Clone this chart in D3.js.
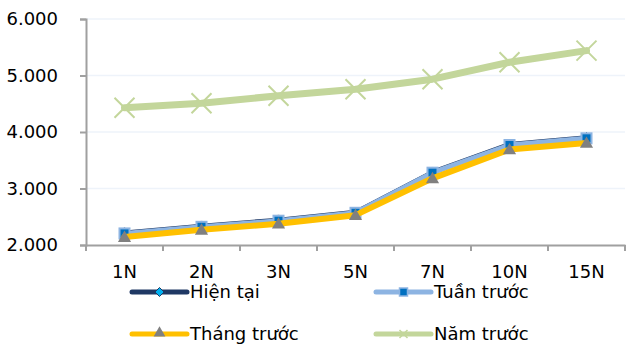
<!DOCTYPE html>
<html><head><meta charset="utf-8">
<script src="https://cdn.jsdelivr.net/npm/d3@7"></script>
<style>body{margin:0;background:#fff}svg{display:block;font-family:"DejaVu Sans",Verdana,sans-serif}</style>
</head><body><svg id="c" width="626" height="348"></svg>
<script>
const categories = ["1N","2N","3N","5N","7N","10N","15N"];
const hienTai   = [2235,2355,2462,2600,3310,3800,3920];
const tuanTruoc = [2205,2322,2430,2570,3280,3770,3888];
const thangTruoc= [2140,2268,2375,2528,3180,3690,3805];
const namTruoc  = [4430,4508,4642,4756,4935,5235,5440];
const yTicks = [2000,3000,4000,5000,6000];
const seriesNames = ["Hiện tại","Tuần trước","Tháng trước","Năm trước"];

const svg = d3.select("#c");
const x = d3.scaleBand().domain(categories).range([86,625]);
const y = d3.scaleLinear().domain([2000,6000]).range([245,19]);
const fmt = d => d3.format(",")(d).replace(/,/g,".");

// gridlines
svg.append("g").selectAll("line").data(yTicks.slice(1)).join("line")
  .attr("x1",86).attr("x2",625).attr("y1",d=>y(d)).attr("y2",d=>y(d))
  .attr("stroke","#eef3fa").attr("stroke-width",1.5);

// y axis
const ya = svg.append("g").attr("transform","translate(86,0)")
  .call(d3.axisLeft(y).tickValues(yTicks).tickFormat(fmt).tickSize(6).tickPadding(22));
ya.select(".domain").attr("stroke","#a0a0a0").attr("stroke-width",2);
ya.selectAll(".tick line").attr("stroke","#a0a0a0").attr("stroke-width",2);
ya.selectAll("text").attr("font-size",18).attr("fill","#000").attr("font-family","DejaVu Sans, Verdana, sans-serif");

// x axis
const xa = svg.append("g").attr("transform","translate(0,245)")
  .call(d3.axisBottom(x).tickSize(0).tickPadding(20));
xa.select(".domain").attr("stroke","#a0a0a0").attr("stroke-width",2);
xa.selectAll("text").attr("font-size",18).attr("fill","#000").attr("font-family","DejaVu Sans, Verdana, sans-serif");
xa.selectAll(".sep").data(categories.map(c=>x(c)).concat([625])).join("line").attr("class","sep")
  .attr("x1",d=>d).attr("x2",d=>d).attr("y1",0).attr("y2",6)
  .attr("stroke","#a0a0a0").attr("stroke-width",2);

const cx = c => x(c)+x.bandwidth()/2;
const line = d3.line().x((d,i)=>cx(categories[i])).y(d=>y(d));

function drawLine(vals,color,w){
  svg.append("path").datum(vals).attr("d",line).attr("fill","none")
    .attr("stroke",color).attr("stroke-width",w).attr("stroke-linejoin","round").attr("stroke-linecap","round");
}
const tri = d3.symbol().type(d3.symbolTriangle).size(75);
const triL = d3.symbol().type(d3.symbolTriangle).size(60);
const xSym = (s)=>`M${-s},${-s}L${s},${s}M${-s},${s}L${s},${-s}`;

// Năm trước
drawLine(namTruoc,"#c3d69b",7);
svg.append("g").selectAll("path").data(namTruoc).join("path")
  .attr("transform",(d,i)=>`translate(${cx(categories[i])},${y(d)})`)
  .attr("d",xSym(10)).attr("stroke","#c3d69b").attr("stroke-width",2).attr("fill","none");

// Hiện tại
drawLine(hienTai,"#1f3864",2.5);
svg.append("g").selectAll("path").data(hienTai).join("path")
  .attr("transform",(d,i)=>`translate(${cx(categories[i])},${y(d)})`)
  .attr("d","M0,-4L4,0L0,4L-4,0Z").attr("fill","#00b0f0").attr("stroke","#1f3864").attr("stroke-width",1);
// Tuần trước
drawLine(tuanTruoc,"#8db4e2",5);
svg.append("g").selectAll("rect").data(tuanTruoc).join("rect")
  .attr("x",(d,i)=>cx(categories[i])-5).attr("y",d=>y(d)-5).attr("width",10).attr("height",10)
  .attr("fill","#0070c0").attr("stroke","#8db4e2").attr("stroke-width",2);
// Tháng trước
drawLine(thangTruoc,"#ffc000",6);
svg.append("g").selectAll("path").data(thangTruoc).join("path")
  .attr("transform",(d,i)=>`translate(${cx(categories[i])},${y(d)+1})`)
  .attr("d",tri).attr("fill","#808080");

// legend
const leg = [
  {name:seriesNames[0],x:132,y:292,color:"#1f3864",w:5,m:"diamond"},
  {name:seriesNames[1],x:376,y:292,color:"#8db4e2",w:5,m:"square"},
  {name:seriesNames[2],x:132,y:334,color:"#ffc000",w:5,m:"tri"},
  {name:seriesNames[3],x:376,y:334,color:"#c3d69b",w:5,m:"x"}
];
const lg = svg.append("g");
leg.forEach(l=>{
  const g = lg.append("g").attr("transform",`translate(${l.x},${l.y})`);
  g.append("line").attr("x1",0).attr("x2",55).attr("stroke",l.color).attr("stroke-width",l.w).attr("stroke-linecap","round");
  if(l.m==="diamond") g.append("path").attr("transform","translate(27.5,0)").attr("d","M0,-4.5L4.5,0L0,4.5L-4.5,0Z").attr("fill","#00b0f0").attr("stroke","#1f3864").attr("stroke-width",1);
  if(l.m==="square") g.append("rect").attr("x",23.5).attr("y",-4).attr("width",8).attr("height",8).attr("fill","#0070c0").attr("stroke","#8db4e2").attr("stroke-width",1.5);
  if(l.m==="tri") g.append("path").attr("transform","translate(27.5,-1)").attr("d",triL).attr("fill","#808080");
  if(l.m==="x") g.append("path").attr("transform","translate(27.5,0)").attr("d",xSym(4)).attr("stroke","#c3d69b").attr("stroke-width",1.5);
  g.append("text").attr("x",58).attr("y",0).attr("dy","0.36em").attr("font-size",18).attr("fill","#000").text(l.name);
});
</script></body></html>
